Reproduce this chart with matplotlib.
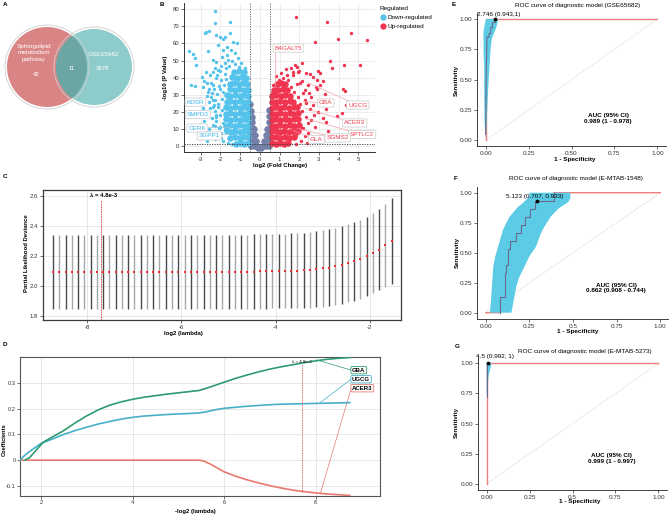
import numpy as np
import matplotlib
matplotlib.use('Agg')
import matplotlib.pyplot as plt
from matplotlib.patches import Circle, Polygon
from matplotlib.lines import Line2D

plt.rcParams['font.family'] = ['Liberation Sans', 'DejaVu Sans']
plt.rcParams['font.size'] = 4.3
plt.rcParams['axes.unicode_minus'] = False

W, H = 669, 514

# ---------------- data ----------------
# A: venn
venn_left_label = 'Sphingolipid\nmetabolism\npathway'
venn_right_label = 'GSE65682'
venn_counts = [42, 11, 3878]

# B: volcano (log2FC, -log10 P)
blue_core = [(-0.62, 1.5), (-0.8, 1.2), (-1.0, 1.8), (-1.22, 1.4),
             (-0.62, 5.0), (-0.82, 5.3), (-1.03, 4.8), (-1.27, 5.2), (-1.5, 4.7),
             (-0.62, 8.5), (-0.82, 8.8), (-1.0, 8.3), (-1.24, 8.7), (-1.47, 8.4), (-1.68, 8.9),
             (-0.62, 12.0), (-0.82, 11.7), (-1.04, 12.3), (-1.28, 11.8), (-1.52, 12.2), (-1.7, 11.9),
             (-0.62, 15.5), (-0.82, 15.8), (-1.02, 15.3), (-1.26, 15.7), (-1.5, 15.4), (-1.72, 15.9),
             (-0.62, 19.0), (-0.82, 18.7), (-1.03, 19.3), (-1.27, 18.8), (-1.51, 19.2), (-1.74, 18.9),
             (-0.62, 22.5), (-0.82, 22.8), (-1.01, 22.3), (-1.25, 22.7), (-1.49, 22.4), (-1.7, 22.9),
             (-0.62, 26.0), (-0.82, 25.7), (-1.03, 26.3), (-1.27, 25.8), (-1.51, 26.2), (-1.68, 25.9),
             (-0.62, 29.5), (-0.82, 29.8), (-1.02, 29.3), (-1.26, 29.7), (-1.5, 29.4), (-1.66, 29.9),
             (-0.62, 33.0), (-0.82, 32.7), (-1.04, 33.3), (-1.28, 32.8), (-1.52, 33.2),
             (-0.64, 36.5), (-0.85, 36.8), (-1.07, 36.3), (-1.31, 36.7), (-1.5, 36.4),
             (-0.7, 40.0), (-0.92, 40.3), (-1.16, 39.8), (-1.4, 40.2),
             (-0.82, 43.5), (-1.05, 43.8), (-1.3, 43.3)]
blue_pts = [(-2.28, 79.2), (-2.28, 72.1), (-1.52, 72.7), (-2.74, 66.9), (-2.57, 67.5), (-2.79, 65.9),
            (-3.59, 55.8), (-3.39, 53.8), (-3.30, 51.3), (-3.25, 47.4), (-2.64, 55.8), (-2.20, 65.0),
            (-2.03, 63.6), (-1.89, 62.4), (-1.78, 64.0), (-1.69, 58.1), (-1.52, 66.0), (-1.35, 61.1),
            (-1.44, 56.2), (-1.18, 60.1), (-1.86, 56.2), (-2.12, 59.1), (-2.37, 50.3), (-2.20, 49.3),
            (-2.71, 43.5), (-1.94, 52.3), (-1.69, 53.2), (-1.27, 54.2), (-1.10, 51.3), (-0.93, 48.4),
            (-0.76, 45.5), (-3.47, 35.7), (-3.30, 35.1), (-2.88, 34.7), (-2.62, 31.8), (-3.05, 26.9),
            (-2.37, 23.0), (-2.20, 17.1), (-2.03, 11.3), (-1.69, 26.9),
            (-2.95, 40.5), (-2.82, 38.2), (-2.55, 41.8), (-2.48, 37.0), (-2.36, 43.1), (-2.67, 29.5),
            (-2.90, 22.4), (-2.75, 19.8), (-2.58, 25.6), (-2.46, 28.9), (-2.33, 33.4), (-2.42, 16.3),
            (-2.60, 9.8), (-2.28, 11.9), (-2.15, 7.4), (-1.98, 4.6), (-2.50, 6.2), (-3.15, 19.5),
            (-3.00, 12.2), (-2.83, 14.9), (-2.22, 39.7), (-2.12, 44.6), (-1.95, 47.1), (-1.75, 48.8),
            (-1.60, 50.3), (-1.42, 49.5), (-2.05, 35.2), (-2.27, 27.1), (-2.14, 22.8), (-2.30, 20.5),
            (-1.85, 3.2), (-1.95, 7.8), (-2.05, 10.4), (-1.88, 13.6), (-2.20, 14.5), (-2.00, 17.9),
            (-1.90, 21.3), (-2.10, 24.6), (-2.35, 24.0), (-1.93, 27.8), (-2.18, 30.6), (-1.85, 31.9),
            (-2.02, 33.5), (-2.40, 35.5), (-1.80, 35.8), (-1.95, 38.4), (-2.15, 41.6), (-1.78, 42.2),
            (-2.00, 43.8), (-1.70, 45.6), (-1.55, 46.8), (-1.25, 47.9), (-1.05, 46.1), (-2.30, 45.8),
            (-2.45, 31.0), (-2.55, 22.0), (-2.25, 18.2), (-2.38, 12.3), (-1.75, 9.6), (-1.62, 1.8),
            (-1.42, 0.9), (-2.60, 33.2), (-2.70, 36.6), (-2.40, 27.0), (-1.72, 39.0), (-2.28, 3.9),
            (-2.68, 3.0)]
gray_core = [(-0.45, 0.3), (-0.3, 0.3), (-0.15, 0.1), (0.0, -0.5), (0.15, 0.1), (0.3, 0.3), (0.45, 0.3),
             (-0.08, -1.0), (0.05, -1.0),
             (-0.47, 3.5), (-0.33, 3.5), (-0.2, 3.2), (0.22, 3.2), (0.36, 3.5), (0.48, 3.5),
             (-0.48, 7.0), (-0.35, 7.0), (-0.25, 6.6), (0.3, 6.6), (0.42, 7.0),
             (-0.49, 10.5), (-0.37, 10.5), (-0.29, 10.0), (0.38, 10.2), (0.48, 10.5),
             (-0.49, 14.0), (-0.39, 13.8), (0.45, 14.0),
             (-0.49, 17.5), (-0.42, 17.2), (0.47, 17.5),
             (-0.5, 21.0), (-0.45, 20.6), (0.49, 21.0),
             (-0.5, 24.5)]
red_core = [(0.62, 1.5), (0.8, 1.2), (1.0, 1.8), (1.22, 1.4), (1.45, 1.6),
            (0.62, 5.0), (0.82, 5.3), (1.03, 4.8), (1.27, 5.2), (1.5, 4.7), (1.72, 5.1),
            (0.62, 8.5), (0.82, 8.8), (1.0, 8.3), (1.24, 8.7), (1.47, 8.4), (1.7, 8.9), (1.92, 8.6),
            (0.62, 12.0), (0.82, 11.7), (1.04, 12.3), (1.28, 11.8), (1.52, 12.2), (1.75, 11.9), (1.98, 12.1),
            (0.62, 15.5), (0.82, 15.8), (1.02, 15.3), (1.26, 15.7), (1.5, 15.4), (1.74, 15.9), (1.96, 15.6),
            (0.62, 19.0), (0.82, 18.7), (1.03, 19.3), (1.27, 18.8), (1.51, 19.2), (1.74, 18.9), (1.95, 19.1),
            (0.62, 22.5), (0.82, 22.8), (1.01, 22.3), (1.25, 22.7), (1.49, 22.4), (1.72, 22.9), (1.9, 22.6),
            (0.62, 26.0), (0.82, 25.7), (1.03, 26.3), (1.27, 25.8), (1.51, 26.2), (1.7, 25.9),
            (0.64, 29.5), (0.84, 29.8), (1.06, 29.3), (1.3, 29.7), (1.52, 29.4),
            (0.72, 33.0), (0.92, 32.7), (1.16, 33.3), (1.4, 32.8),
            (0.86, 36.5), (1.08, 36.8), (1.3, 36.3)]
red_pts = [(2.1, 3.2), (2.3, 6.1), (2.2, 10.8), (2.45, 13.4), (2.35, 17.2), (2.15, 20.6), (2.55, 21.8),
           (2.05, 24.5), (2.3, 26.9), (1.95, 28.4), (2.2, 30.9), (1.75, 31.5), (2.5, 31.2), (1.6, 34.8),
           (1.9, 36.2), (2.15, 38.1), (1.45, 38.6), (1.2, 40.1), (1.7, 41.3), (2.45, 35.6), (2.7, 24.0),
           (2.6, 15.5), (2.8, 11.2), (2.95, 20.1), (2.65, 5.2), (1.85, 1.4), (2.4, 2.0), (1.1, 42.8),
           (0.95, 38.5), (0.68, 36.0), (0.62, 31.2), (1.35, 44.9), (1.58, 45.8), (2.0, 44.1), (3.1, 26.5),
           (3.3, 30.2), (2.9, 33.6), (3.45, 8.9), (3.0, 4.2), (3.6, 25.4), (3.9, 17.3), (4.4, 23.8), (3.2, 16.6),
           (1.86, 75.7), (3.39, 72.7), (4.65, 66.0), (3.99, 62.6), (5.45, 62.0), (2.79, 61.0), (3.59, 49.6),
           (3.67, 45.5), (4.30, 47.4), (5.08, 47.4), (1.78, 47.4), (1.89, 46.4), (2.12, 48.7), (1.69, 43.5),
           (1.36, 41.5), (1.95, 43.5), (2.37, 42.5), (2.54, 42.1), (2.96, 44.1), (2.71, 40.6), (3.05, 42.9),
           (2.88, 38.6), (2.84, 34.3), (3.22, 38.2), (4.20, 33.2), (4.31, 32.4), (4.15, 19.1), (3.34, 14.2),
           (3.35, 21.5), (2.45, 7.8), (2.76, 18.1), (2.37, 25.0), (2.62, 28.8), (3.05, 35.7), (2.28, 32.8),
           (2.03, 36.7), (1.86, 6.4), (2.12, 10.4), (0.81, 41.0)]
down_genes = ['KDSR', 'SMPD3', 'CERK', 'SGPP1']
down_label_xy = [(-3.27, 25.7), (-3.15, 18.4), (-3.17, 10.5), (-2.56, 5.9)]
up_genes = ['B4GALT5', 'GBA', 'UGCG', 'ACER3', 'SPTLC2', 'SGMS2', 'GLA']
up_label_xy = [(1.45, 57.3), (3.35, 25.2), (4.97, 24.0), (4.82, 13.5), (5.2, 6.7), (3.96, 4.7), (2.87, 3.8)]
up_gene_xy = [(0.76, 36.0), (2.2, 26.0), (2.45, 37.0), (2.3, 22.0), (2.35, 16.0), (2.0, 10.0), (1.7, 9.0)]

# C: cross-validation curve
cv_log_lambda = [-8.73, -8.60, -8.46, -8.33, -8.20, -8.06, -7.93, -7.80, -7.66, -7.53,
                 -7.40, -7.26, -7.13, -7.00, -6.87, -6.73, -6.60, -6.47, -6.33, -6.20,
                 -6.07, -5.93, -5.80, -5.67, -5.53, -5.40, -5.27, -5.13, -5.00, -4.87,
                 -4.74, -4.60, -4.47, -4.34, -4.20, -4.07, -3.94, -3.80, -3.67, -3.54,
                 -3.40, -3.27, -3.14, -3.00, -2.87, -2.74, -2.60, -2.47, -2.34, -2.20,
                 -2.07, -1.94, -1.80, -1.67, -1.54]
cv_mean = [2.093] * 25 + [2.094] * 6 + [2.095, 2.096, 2.097, 2.097, 2.098, 2.099,
           2.100, 2.100, 2.102, 2.104, 2.108, 2.112, 2.117, 2.123, 2.131, 2.140,
           2.151, 2.164, 2.179, 2.197, 2.218, 2.243, 2.270, 2.300]
cv_sd = [0.248] * 37 + [0.249, 0.250, 0.251, 0.252, 0.253, 0.254, 0.255, 0.256, 0.257,
         0.258, 0.259, 0.261, 0.263, 0.265, 0.268, 0.272, 0.277, 0.285]
lam_min = 4.8e-3

# D: coefficient paths (-log2 lambda)
gba_x = [1.65, 1.75, 1.9, 2.05, 2.25, 2.5, 2.75, 3.0, 3.25, 3.5, 3.75, 4.0, 4.25, 4.5, 4.75, 5.0,
         5.25, 5.45, 5.6, 5.8, 6.0, 6.25, 6.5, 6.75, 7.0, 7.25, 7.5, 7.75, 8.0, 8.25, 8.5, 8.75]
gba_y = [0.0, 0.01, 0.04, 0.07, 0.09, 0.115, 0.145, 0.172, 0.195, 0.213, 0.226, 0.236, 0.244, 0.25,
         0.256, 0.261, 0.266, 0.27, 0.278, 0.29, 0.302, 0.317, 0.33, 0.342, 0.353, 0.362, 0.37,
         0.378, 0.385, 0.391, 0.395, 0.398]
ugcg_x = [1.54, 1.65, 1.8, 2.0, 2.25, 2.5, 2.75, 3.0, 3.25, 3.5, 3.75, 4.0, 4.25, 4.5, 4.75, 5.0,
          5.25, 5.45, 5.6, 5.8, 6.0, 6.25, 6.5, 6.75, 7.0, 7.25, 7.5, 7.75, 8.0, 8.25, 8.5, 8.75]
ugcg_y = [0.0, 0.02, 0.04, 0.065, 0.082, 0.1, 0.115, 0.128, 0.14, 0.15, 0.159, 0.166, 0.171,
          0.174, 0.177, 0.179, 0.181, 0.183, 0.187, 0.195, 0.201, 0.205, 0.209, 0.212, 0.215,
          0.217, 0.218, 0.219, 0.22, 0.221, 0.222, 0.223]
acer3_x = [1.54, 5.45, 5.55, 5.7, 5.85, 6.0, 6.25, 6.5, 6.75, 7.0, 7.25, 7.5, 7.75, 8.0, 8.25, 8.5, 8.75]
acer3_y = [0.0, 0.0, -0.003, -0.015, -0.03, -0.045, -0.062, -0.076, -0.088, -0.099, -0.108,
           -0.116, -0.122, -0.127, -0.131, -0.134, -0.137]

# E/F/G: ROC curves (1 - specificity, sensitivity)
e_curve_x = [0.0, 0.002, 0.004, 0.006, 0.008, 0.02, 0.02, 0.03, 0.03, 0.04, 0.04, 0.057, 0.057]
e_curve_y = [0.05, 0.3, 0.6, 0.7, 0.85, 0.85, 0.88, 0.88, 0.93, 0.93, 0.97, 0.97, 1.0]
e_band = [(0.0, 0.02), (-0.006, 0.15), (-0.008, 0.4), (-0.008, 0.6), (-0.012, 0.75), (-0.012, 0.9),
          (0.002, 1.0), (0.074, 1.0), (0.068, 0.96), (0.06, 0.92), (0.045, 0.87), (0.035, 0.83),
          (0.029, 0.75), (0.02, 0.55), (0.014, 0.4), (0.008, 0.2), (0.003, 0.05)]
e_cut = (0.057, 1.0)
f_curve_x = [0.08, 0.08, 0.108, 0.108, 0.118, 0.118, 0.128, 0.128, 0.137, 0.137, 0.175, 0.175, 0.2,
             0.2, 0.225, 0.225, 0.255, 0.255, 0.285, 0.285, 0.39, 0.39]
f_curve_y = [0.0, 0.133, 0.133, 0.333, 0.333, 0.4, 0.4, 0.533, 0.533, 0.6, 0.6, 0.667, 0.667,
             0.733, 0.733, 0.8, 0.8, 0.867, 0.867, 0.933, 0.933, 1.0]
f_band = [(0.024, 0.0), (0.03, 0.1), (0.043, 0.38), (0.055, 0.47), (0.071, 0.55), (0.085, 0.62),
          (0.099, 0.69), (0.115, 0.74), (0.137, 0.8), (0.16, 0.84), (0.184, 0.88), (0.21, 0.91),
          (0.231, 0.94), (0.25, 0.97), (0.25, 1.0), (0.485, 1.0), (0.485, 0.96), (0.475, 0.925),
          (0.45, 0.9), (0.419, 0.87), (0.395, 0.835), (0.372, 0.8), (0.35, 0.75), (0.325, 0.69),
          (0.305, 0.62), (0.288, 0.55), (0.25, 0.47), (0.212, 0.355), (0.19, 0.29), (0.175, 0.217),
          (0.16, 0.1), (0.147, 0.0)]
f_cut = (0.293, 0.933)
g_curve_x = [0.0, 0.0, 0.008]
g_curve_y = [0.72, 1.0, 1.0]
g_band = [(0.0, 0.72), (0.0, 1.0), (0.03, 1.0), (0.012, 0.9), (0.004, 0.8)]
g_cut = (0.008, 1.0)

roc_titles = ['ROC curve of diagnostic model (GSE65682)',
              'ROC curve of diagnostic model (E-MTAB-1548)',
              'ROC curve of diagnostic model (E-MTAB-5273)']
roc_cut_labels = ['2.746 (0.943,1)', '5.123 (0.707, 0.933)', '4.5 (0.992, 1)']
roc_auc_labels = ['AUC (95% CI)\n0.989 (1 - 0.978)', 'AUC (95% CI)\n0.862 (0.908 - 0.744)',
                  'AUC (95% CI)\n0.999 (1 - 0.997)']

# ---------------- figure ----------------
fig = plt.figure(figsize=(W / 100, H / 100), dpi=100)


def px_axes(l, t, r, b):
    return fig.add_axes([l / W, 1 - b / H, (r - l) / W, (b - t) / H])


def ftext(x, y, s, **kw):
    kw.setdefault('ha', 'center')
    kw.setdefault('va', 'center')
    fig.text(x / W, 1 - y / H, s, **kw)


for lab, (x, y) in zip('ABCDEFG', [(3, 4), (160, 4), (3, 177), (3, 344), (452, 4), (454, 179), (455, 347)]):
    ftext(x, y, lab, fontweight='bold', fontsize=4.5, ha='left')

# ---- A: venn ----
axa = px_axes(0, 0, 135, 130)
axa.set_xlim(0, 135)
axa.set_ylim(130, 0)
axa.axis('off')
c1 = Circle((47, 67), 40, fc='#DA8585', ec='none')
c2 = Circle((94, 67), 38, fc='#8ECCCB', ec='none')
axa.add_patch(c1)
axa.add_patch(c2)
ov = Circle((94, 67), 38, fc='#6BA6A4', ec='none')
axa.add_patch(ov)
ov.set_clip_path(c1)
axa.add_patch(Circle((47, 67), 42, fill=False, ec='#CFCFCF', lw=0.6))
axa.add_patch(Circle((94, 67), 40, fill=False, ec='#CFCFCF', lw=0.6))
axa.text(34, 53, venn_left_label, color='white', ha='center', va='center', fontsize=4.6,
         linespacing=1.35)
axa.text(36, 75, str(venn_counts[0]), color='white', ha='center', va='center', fontsize=4.3)
axa.text(72, 69, str(venn_counts[1]), color='white', ha='center', va='center', fontsize=4.3)
axa.text(103, 55, venn_right_label, color='white', ha='center', va='center', fontsize=4.6)
axa.text(103, 69, str(venn_counts[2]), color='white', ha='center', va='center', fontsize=4.3)

# ---- B: volcano ----
BLUE, RED, GRAY = '#55C3EB', '#EF3550', '#7480A8'
axb = px_axes(184, 3, 375, 152)
axb.set_xlim(-3.85, 5.85)
axb.set_ylim(-3.5, 83.7)
axb.set_xticks(range(-3, 6))
axb.set_yticks(range(0, 81, 10))
axb.grid(True, color='#E6E6E6', lw=0.5)
axb.set_axisbelow(True)
for s in ['top', 'right']:
    axb.spines[s].set_visible(False)
for s in ['left', 'bottom']:
    axb.spines[s].set_color('#333333')
    axb.spines[s].set_linewidth(0.7)
axb.tick_params(length=2, width=0.5, pad=1.5, colors='#333333', labelsize=4.3)
for pts, col, sz in [(gray_core, GRAY, 22), (blue_core, BLUE, 22), (red_core, RED, 22),
                     (blue_pts, BLUE, 6), (red_pts, RED, 6)]:
    xs, ys = zip(*pts)
    axb.scatter(xs, ys, s=sz, c=col, lw=0, zorder=2)
axb.axvline(-0.5, color='#555555', ls=(0, (1.5, 1.5)), lw=0.6, zorder=3)
axb.axvline(0.5, color='#555555', ls=(0, (1.5, 1.5)), lw=0.6, zorder=3)
axb.axhline(-np.log10(0.05), color='#333333', ls=(0, (1.5, 1.5)), lw=0.6, zorder=3)
for g, (lx, ly), (gx, gy) in zip(up_genes, up_label_xy, up_gene_xy):
    if g == 'B4GALT5':
        axb.plot([gx, gx], [gy, ly - 2.5], color='#F2A0A8', lw=0.5, zorder=4)
    else:
        axb.plot([gx, lx], [gy, ly], color='#F2A0A8', lw=0.5, zorder=4)
    axb.text(lx, ly, g, color='#E8404F', ha='center', va='center', fontsize=4.6, zorder=5,
             bbox=dict(boxstyle='round,pad=0.25', fc='white', ec='#C8C8C8', lw=0.5))
axb.plot([-2.7, -1.52], [10.7, 10.9], color='#9FC3D3', lw=0.5, zorder=4)
axb.plot([-1.98, -1.52], [6.4, 7.4], color='#9FC3D3', lw=0.5, zorder=4)
for g, (lx, ly) in zip(down_genes, down_label_xy):
    axb.text(lx, ly, g, color='#3CB4E6', ha='center', va='center', fontsize=4.6, zorder=5,
             bbox=dict(boxstyle='round,pad=0.25', fc='white', ec='#C8C8C8', lw=0.5))
ftext(166, 78, '-log10 (P Value)', rotation=90, fontweight='bold')
ftext(280, 165.5, 'log2 (Fold Change)', fontweight='bold')
handles = [Line2D([], [], ls='none', marker='o', ms=4.5, mfc=BLUE, mec='none'),
           Line2D([], [], ls='none', marker='o', ms=4.5, mfc=RED, mec='none')]
leg = fig.legend(handles, ['Down-regulated', 'Up-regulated'], title='Regulated', loc='upper left',
                 bbox_to_anchor=(377 / W, 1 - 3 / H), frameon=False, fontsize=4.6,
                 title_fontsize=4.6, handletextpad=0.3, labelspacing=0.6, handlelength=1.0,
                 borderaxespad=0)
leg._legend_box.align = 'left'

# ---- C: cv curve ----
axc = px_axes(43, 190, 401, 320)
axc.set_xlim(-8.94, -1.34)
axc.set_ylim(1.773, 2.64)
axc.set_xticks([-8, -6, -4, -2])
axc.set_yticks([1.8, 2.0, 2.2, 2.4, 2.6])
axc.grid(True, color='#E3E3E3', lw=0.6)
axc.set_axisbelow(True)
for s in axc.spines.values():
    s.set_color('#3A3A3A')
    s.set_linewidth(0.9)
axc.tick_params(length=2, width=0.5, pad=1.5, colors='#333333', labelsize=4.3)
cm = np.array(cv_mean)
cs = np.array(cv_sd)
bar_cols = ['#4A4A4A' if i % 2 == 0 else '#A8A8A8' for i in range(len(cv_log_lambda))]
axc.vlines(cv_log_lambda, cm - cs, cm + cs, colors=bar_cols, lw=1.0, zorder=2)
axc.scatter(cv_log_lambda, cm, s=4, c='#E8312F', marker='s', lw=0, zorder=3)
lx = np.log2(lam_min)
axc.plot([lx, lx], [1.773, 2.575], color='#D63A3A', ls=(0, (2, 1)), lw=0.6, zorder=4)
axc.text(lx + 0.05, 2.605, 'λ = 4.8e-3', fontweight='bold', ha='center', va='center', fontsize=4.3)
ftext(27, 253, 'Partial Likelihood Deviance', rotation=90, fontweight='bold')
ftext(183, 334, 'log2 (lambda)', fontweight='bold')

# ---- D: coefficient paths ----
GREEN, TEAL, SALMON = '#2E9B72', '#47AFC8', '#E8796E'
axd = px_axes(20, 357, 380, 496)
axd.set_xlim(1.54, 9.41)
axd.set_ylim(-0.139, 0.40)
axd.set_xticks([2, 4, 6, 8])
axd.set_yticks([-0.1, 0, 0.1, 0.2, 0.3])
axd.set_yticklabels(['-0.1', '0', '0.1', '0.2', '0.3'])
axd.grid(True, color='#E3E3E3', lw=0.6)
axd.set_axisbelow(True)
for s in axd.spines.values():
    s.set_color('#555555')
    s.set_linewidth(0.8)
axd.tick_params(length=2, width=0.5, pad=1.2, colors='#333333', labelsize=4.1)
axd.plot(acer3_x, acer3_y, color=SALMON, lw=1.2, zorder=3)
axd.plot(ugcg_x, ugcg_y, color=TEAL, lw=1.2, zorder=3)
axd.plot(gba_x, gba_y, color=GREEN, lw=1.2, zorder=3)
lxd = -np.log2(lam_min)
axd.plot([lxd, lxd], [-0.122, 0.372], color='#D63A3A', ls=(0, (1, 1)), lw=0.6, zorder=4)
axd.text(lxd, 0.38, 'λ = 4.8e-3', ha='center', va='center', fontsize=3.2)
axd.plot([8.04, 8.78], [0.388, 0.349], color=GREEN, lw=0.5)
axd.plot([8.11, 8.78], [0.224, 0.314], color=TEAL, lw=0.5)
axd.plot([8.11, 8.78], [-0.127, 0.279], color=SALMON, lw=0.5)
for g, y, c in [('GBA', 0.349, GREEN), ('UGCG', 0.314, TEAL), ('ACER3', 0.279, SALMON)]:
    axd.text(8.8, y, g, ha='left', va='center', fontweight='bold', fontsize=4.3, zorder=5,
             bbox=dict(boxstyle='round,pad=0.2', fc='white', ec=c, lw=0.6))
ftext(4, 440, 'Coefficients', rotation=90, fontweight='bold', fontsize=4.1)
ftext(195, 511, '-log2 (lambda)', fontweight='bold')

# ---- E/F/G: ROC ----
ROC_RED, BAND, CURVE = '#F07F7F', '#5CCBE6', '#6A6C8C'
roc_boxes = [(477, 12.9, 666, 146.4), (477, 186.7, 669, 318.7), (478, 357.3, 667, 490)]
roc_xt = [['0.00', '0.25', '0.50', '0.75', '1.00'], ['0.00', '0.25', '0.5', '0.75', '1.00'],
          ['0.00', '0.25', '0.5', '0.75', '1.00']]
curves = [(e_curve_x, e_curve_y, e_band, e_cut, [(0, 0), (0, 1), (1, 1)]),
          (f_curve_x, f_curve_y, f_band, f_cut, [(0, 0), (0.08, 0), (0.08, 0.133), (0.39, 1.0), (1, 1)]),
          (g_curve_x, g_curve_y, g_band, g_cut, [(0, 0), (0, 1), (1, 1)])]
title_pos = [(578, 6), (576, 178.5), (585, 351.5)]
cut_pos = [(0.078, 1.035), (0.28, 0.967), (0.048, 1.055)]
auc_pos = [(0.713, 0.18), (0.748, 0.205), (0.728, 0.21)]
xlab_pos = [(575, 160), (578, 331), (580, 502)]
ylab_pos = [(456, 80), (457, 253), (456, 423)]
for i in range(3):
    ax = px_axes(*roc_boxes[i])
    ax.set_xlim(-0.05, 1.05)
    ax.set_ylim(-0.05, 1.05)
    ax.set_xticks([0, 0.25, 0.5, 0.75, 1.0])
    ax.set_xticklabels(roc_xt[i])
    ax.set_yticks([0, 0.25, 0.5, 0.75, 1.0])
    ax.set_yticklabels(['0.00', '0.25', '0.50', '0.75', '1.00'])
    for s in ['top', 'right']:
        ax.spines[s].set_visible(False)
    for s in ['left', 'bottom']:
        ax.spines[s].set_linewidth(0.6)
        ax.spines[s].set_color('#222222')
    ax.tick_params(length=2, width=0.5, pad=1.5, colors='#333333', labelsize=4.6)
    cx, cy, band, cut, redpath = curves[i]
    ax.plot([0, 1], [0, 1], color='#BBBBBB', ls=(0, (1, 1.5)), lw=0.5)
    rx, ry = zip(*redpath)
    ax.plot(rx, ry, color=ROC_RED, lw=1.0, zorder=2)
    ax.add_patch(Polygon(band, closed=True, fc=BAND, ec='none', zorder=3))
    ax.plot(cx, cy, color=CURVE, lw=0.8, zorder=4)
    ax.scatter([cut[0]], [cut[1]], s=3, c='black', zorder=5, clip_on=False)
    ax.text(cut_pos[i][0], cut_pos[i][1], roc_cut_labels[i], ha='center', va='center', fontsize=4.6,
            zorder=6)
    ax.text(auc_pos[i][0], auc_pos[i][1], roc_auc_labels[i], ha='center', va='center',
            fontweight='bold', fontsize=4.6, linespacing=1.1)
    ftext(title_pos[i][0], title_pos[i][1], roc_titles[i], fontsize=4.6)
    ftext(xlab_pos[i][0], xlab_pos[i][1], '1 - Specificity', fontweight='bold', fontsize=4.6)
    ftext(ylab_pos[i][0], ylab_pos[i][1], 'Sensitivity', fontweight='bold', fontsize=4.4,
          rotation=90)

fig.savefig('out.png', dpi=100)
